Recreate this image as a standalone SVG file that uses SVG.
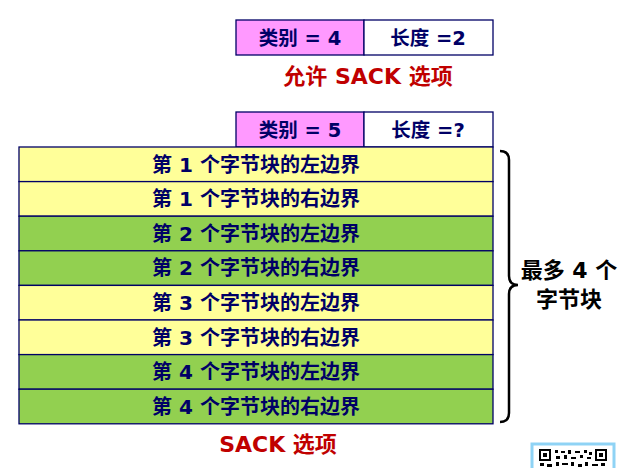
<svg xmlns="http://www.w3.org/2000/svg" width="622" height="468" viewBox="0 0 622 468">
<style>
.cell{stroke:#000066;stroke-width:1.3}
.pink{fill:#ff99ff}
.white{fill:#ffffff}
.y{fill:#ffff99}
.g{fill:#92d050}
.t{font-family:"DejaVu Sans","Noto Sans CJK SC",sans-serif;font-weight:bold;fill:#000066;text-anchor:middle}
.h{font-size:19.5px}
.r{font-size:20px}
.red{font-family:"DejaVu Sans","Noto Sans CJK SC",sans-serif;font-weight:bold;fill:#c00000;font-size:22px;text-anchor:middle}
.lbl{font-family:"DejaVu Sans","Noto Sans CJK SC",sans-serif;font-weight:bold;fill:#000000;font-size:22px;text-anchor:middle}
</style>
<rect width="622" height="468" fill="#ffffff"/>
<g id="opt4">
<rect class="cell pink" x="236" y="20" width="128" height="35"/>
<rect class="cell white" x="364" y="20" width="129" height="35"/>
<text class="t h" x="300" y="44.5">类别 = 4</text>
<text class="t h" x="428" y="44.5">长度 =2</text>
<text class="red" x="368" y="84">允许 SACK 选项</text>
</g>
<g id="opt5">
<rect class="cell pink" x="236" y="112" width="128" height="35"/>
<rect class="cell white" x="364" y="112" width="129" height="35"/>
<text class="t h" x="300" y="136.5">类别 = 5</text>
<text class="t h" x="428" y="136.5">长度 =?</text>
</g>
<g id="rows">
<rect class="cell y" x="19" y="147" width="474" height="34.6"/>
<rect class="cell y" x="19" y="181.6" width="474" height="34.6"/>
<rect class="cell g" x="19" y="216.2" width="474" height="34.6"/>
<rect class="cell g" x="19" y="250.8" width="474" height="34.6"/>
<rect class="cell y" x="19" y="285.4" width="474" height="34.6"/>
<rect class="cell y" x="19" y="320" width="474" height="34.6"/>
<rect class="cell g" x="19" y="354.6" width="474" height="34.6"/>
<rect class="cell g" x="19" y="389.2" width="474" height="34.6"/>
<text class="t r" x="256" y="171.5">第 1 个字节块的左边界</text>
<text class="t r" x="256" y="206.1">第 1 个字节块的右边界</text>
<text class="t r" x="256" y="240.7">第 2 个字节块的左边界</text>
<text class="t r" x="256" y="275.3">第 2 个字节块的右边界</text>
<text class="t r" x="256" y="309.9">第 3 个字节块的左边界</text>
<text class="t r" x="256" y="344.5">第 3 个字节块的右边界</text>
<text class="t r" x="256" y="379.1">第 4 个字节块的左边界</text>
<text class="t r" x="256" y="413.7">第 4 个字节块的右边界</text>
</g>
<g id="brace">
<path d="M500,151 Q509,151 509,160 L509,276 Q509,285 518,285 Q509,285 509,294 L509,413 Q509,422 500,422" fill="none" stroke="#000000" stroke-width="2.5"/>
<text class="lbl" x="569" y="278">最多 4 个</text>
<text class="lbl" x="569" y="307">字节块</text>
</g>
<text class="red" x="278" y="452">SACK 选项</text>
<g id="qr">
<rect x="532" y="444" width="82" height="30" fill="#ffffff" stroke="#8fd3f5" stroke-width="3"/>
<rect x="540" y="450" width="10" height="10" fill="none" stroke="#000" stroke-width="2"/>
<rect x="543" y="453" width="4" height="4" fill="#000"/>
<rect x="596" y="450" width="10" height="10" fill="none" stroke="#000" stroke-width="2"/>
<rect x="599" y="453" width="4" height="4" fill="#000"/>
<path d="M555,450h3v3h-3zM561,451h4v2h-4zM568,450h3v4h-3zM575,451h5v2h-5zM584,450h3v3h-3zM589,452h3v3h-3zM556,456h4v3h-4zM564,455h3v4h-3zM571,457h5v2h-5zM580,455h3v3h-3zM587,457h4v2h-4zM540,463h4v3h-4zM547,464h5v3h-5zM556,462h3v4h-3zM562,463h6v2h-6zM571,462h3v4h-3zM578,464h4v3h-4zM585,462h3v4h-3zM592,464h6v2h-6zM601,463h4v3h-4z" fill="#000"/>
</g>
</svg>
